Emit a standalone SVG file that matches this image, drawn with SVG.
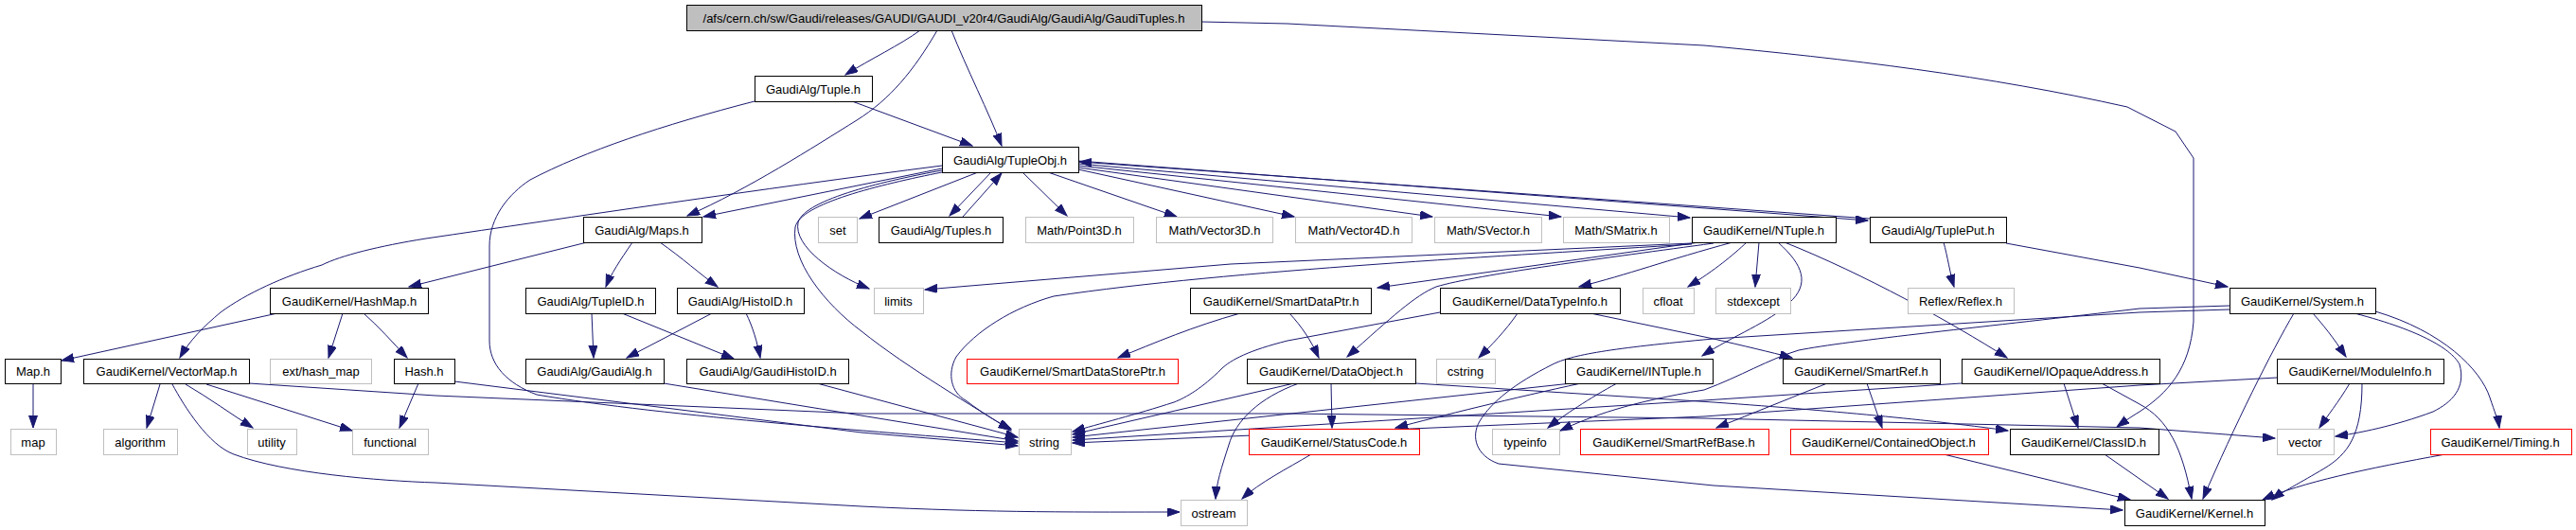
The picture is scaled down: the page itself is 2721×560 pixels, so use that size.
<svg xmlns="http://www.w3.org/2000/svg" width="2721" height="560" viewBox="0 0 2721 560">
<defs>
<marker id="ah" markerUnits="userSpaceOnUse" markerWidth="14" markerHeight="10" refX="13" refY="4.5" orient="auto"><path d="M0,0 L13,4.5 L0,9 z" fill="#191970" stroke="#191970" stroke-width="1"/></marker>
</defs>
<style>
.e{fill:none;stroke:#191970;stroke-width:1;marker-end:url(#ah)}
.n rect{fill:#fff;stroke:#000;stroke-width:1}
.g rect{stroke:#bfbfbf}
.r rect{stroke:#ff0000}
.root rect{fill:#bfbfbf}
text{font-family:"Liberation Sans",Arial,sans-serif;font-size:13px;text-anchor:middle;fill:#000}
</style>
<rect width="2721" height="560" fill="#fff"/>
<g id="edges">
<path class="e" d="M972,32 C950,48 920,62 893,79"/>
<path class="e" d="M1005,32 C1020,70 1045,120 1058,154"/>
<path class="e" d="M990,32 C965,75 940,105 905,127 C860,155 790,200 726,228"/>
<path class="e" d="M1269,23 L1360,25 L1800,48 C1950,62 2100,80 2247,113 L2298,139 L2317,167 L2317,340 C2313,390 2290,415 2260,435 C2250,441 2243,446 2236,451"/>
<path class="e" d="M900,107 L1027,154"/>
<path class="e" d="M797,107 C700,132 617,160 560,190 C537,205 517,230 517,260 L517,360 C517,385 535,405 567,417 C700,440 950,458 1075,468"/>
<path class="e" d="M995,178 L743,229"/>
<path class="e" d="M995,175 C800,200 600,230 450,252 C400,260 360,270 340,280 C300,292 260,310 233,330 C215,345 200,360 190,378"/>
<path class="e" d="M1033,182 L908,231"/>
<path class="e" d="M1047,182 L1003,228"/>
<path class="e" d="M1017,229 L1058,183"/>
<path class="e" d="M1080,182 L1127,228"/>
<path class="e" d="M1107,182 L1243,229"/>
<path class="e" d="M1139,179 L1367,229"/>
<path class="e" d="M1139,177 L1513,229"/>
<path class="e" d="M1139,175 L1649,229"/>
<path class="e" d="M1139,173 L1785,230"/>
<path class="e" d="M1139,170 L1973,233"/>
<path class="e" d="M1975,231 L1140,171"/>
<path class="e" d="M995,180 C940,190 850,210 843,235 C838,260 880,290 918,305"/>
<path class="e" d="M995,182 C930,195 845,215 840,240 C835,275 870,320 910,350 C960,390 1030,430 1068,455"/>
<path class="e" d="M620,256 L432,303"/>
<path class="e" d="M668,256 C655,275 645,290 640,303"/>
<path class="e" d="M697,256 C720,272 740,290 758,303"/>
<path class="e" d="M293,331 L65,381"/>
<path class="e" d="M362,331 L347,378"/>
<path class="e" d="M384,331 C400,345 415,362 430,378"/>
<path class="e" d="M35,405 L35,452"/>
<path class="e" d="M169,406 L155,452"/>
<path class="e" d="M196,406 C220,420 245,438 267,452"/>
<path class="e" d="M218,406 L372,455"/>
<path class="e" d="M182,406 C195,430 220,470 247,480 C300,500 400,508 460,510 L910,535 C1050,542 1150,541 1246,541"/>
<path class="e" d="M263,405 L460,418 L910,437 L1360,437 L1800,442 L2260,452 L2403,463"/>
<path class="e" d="M442,405 L422,452"/>
<path class="e" d="M480,403 L910,457 L1075,471"/>
<path class="e" d="M625,331 L627,378"/>
<path class="e" d="M657,331 L775,379"/>
<path class="e" d="M752,331 L662,378"/>
<path class="e" d="M788,331 C795,345 800,362 803,378"/>
<path class="e" d="M701,405 L1075,466"/>
<path class="e" d="M863,405 L1075,462"/>
<path class="e" d="M1787,257 L1300,279 L977,306"/>
<path class="e" d="M1787,258 C1600,270 1300,285 1113,313 C1070,325 1030,350 1010,377 C1000,395 1005,415 1020,423 C1040,438 1055,447 1068,453"/>
<path class="e" d="M1795,256 L1455,304"/>
<path class="e" d="M1810,257 C1700,272 1560,290 1517,303 C1495,312 1470,335 1423,377"/>
<path class="e" d="M1830,256 C1760,275 1720,290 1668,303"/>
<path class="e" d="M1845,256 C1830,270 1812,285 1783,303"/>
<path class="e" d="M1858,256 L1854,303"/>
<path class="e" d="M1878,256 C1905,280 1912,300 1890,320 C1870,340 1830,355 1798,376"/>
<path class="e" d="M1885,256 C1970,290 2060,340 2120,378"/>
<path class="e" d="M1603,331 C1590,350 1575,365 1562,378"/>
<path class="e" d="M1680,331 L1810,358 C1840,365 1870,372 1893,378"/>
<path class="e" d="M1521,330 L1360,360 C1320,370 1300,380 1290,390 C1270,410 1253,420 1240,425 C1200,438 1160,448 1133,456"/>
<path class="e" d="M1310,331 C1260,345 1220,362 1181,378"/>
<path class="e" d="M1362,331 C1375,345 1385,360 1393,378"/>
<path class="e" d="M1367,405 L1133,459"/>
<path class="e" d="M1406,405 L1407,452"/>
<path class="e" d="M1372,405 C1330,420 1305,445 1298,470 C1290,495 1285,510 1284,527"/>
<path class="e" d="M1495,405 L1810,425 C1950,435 2050,445 2121,455"/>
<path class="e" d="M1385,480 C1360,495 1330,510 1312,527"/>
<path class="e" d="M1708,405 C1680,420 1650,440 1635,452"/>
<path class="e" d="M1670,405 C1600,420 1520,440 1474,452"/>
<path class="e" d="M1660,405 L1133,462"/>
<path class="e" d="M2355,327 L2260,330 L1810,358 C1700,368 1660,375 1640,385 C1600,405 1575,425 1563,445 C1553,462 1560,482 1583,490 L1810,513 L2242,539"/>
<path class="e" d="M2180,405 L2195,452"/>
<path class="e" d="M2220,405 L2260,427 C2290,443 2305,473 2315,527"/>
<path class="e" d="M2072,405 L1800,423 L1133,465"/>
<path class="e" d="M1930,405 L1813,452"/>
<path class="e" d="M1972,405 L1988,452"/>
<path class="e" d="M2053,480 L2250,528"/>
<path class="e" d="M2223,480 L2290,527"/>
<path class="e" d="M2482,405 C2470,425 2458,440 2450,452"/>
<path class="e" d="M2495,405 C2495,460 2480,480 2455,495 C2430,510 2410,520 2400,528"/>
<path class="e" d="M2405,399 L2260,407 L1800,440 L1133,468"/>
<path class="e" d="M2443,331 C2460,350 2470,365 2478,377"/>
<path class="e" d="M2423,331 C2400,370 2360,450 2327,527"/>
<path class="e" d="M2487,331 C2560,350 2590,370 2598,385 C2605,410 2590,425 2570,435 C2530,450 2490,458 2467,461"/>
<path class="e" d="M2509,329 C2580,350 2620,390 2630,420 C2635,435 2639,445 2640,452"/>
<path class="e" d="M2355,323 L2260,326 C2100,345 1950,360 1900,370 C1867,380 1840,397 1800,412 C1720,425 1680,440 1648,455"/>
<path class="e" d="M2583,480 C2500,495 2430,510 2390,528"/>
<path class="e" d="M2119,257 L2260,283 L2353,303"/>
<path class="e" d="M2053,256 C2057,270 2060,290 2064,303"/>
</g>
<g id="n-root" class="n root"><rect x="725.5" y="5.5" width="544" height="27"/><text x="997" y="24">/afs/cern.ch/sw/Gaudi/releases/GAUDI/GAUDI_v20r4/GaudiAlg/GaudiAlg/GaudiTuples.h</text></g>
<g id="n-tuple" class="n"><rect x="797.5" y="80.5" width="124" height="27"/><text x="859" y="99">GaudiAlg/Tuple.h</text></g>
<g id="n-tupleobj" class="n"><rect x="995.5" y="155.5" width="144" height="27"/><text x="1067" y="174">GaudiAlg/TupleObj.h</text></g>
<g id="n-maps" class="n"><rect x="616.5" y="229.5" width="125" height="27"/><text x="678" y="248">GaudiAlg/Maps.h</text></g>
<g id="n-set" class="n g"><rect x="864.5" y="229.5" width="41" height="27"/><text x="885" y="248">set</text></g>
<g id="n-tuples" class="n"><rect x="928.5" y="229.5" width="131" height="27"/><text x="994" y="248">GaudiAlg/Tuples.h</text></g>
<g id="n-point3d" class="n g"><rect x="1083.5" y="229.5" width="114" height="27"/><text x="1140" y="248">Math/Point3D.h</text></g>
<g id="n-vector3d" class="n g"><rect x="1221.5" y="229.5" width="123" height="27"/><text x="1283" y="248">Math/Vector3D.h</text></g>
<g id="n-vector4d" class="n g"><rect x="1368.5" y="229.5" width="123" height="27"/><text x="1430" y="248">Math/Vector4D.h</text></g>
<g id="n-svector" class="n g"><rect x="1515.5" y="229.5" width="113" height="27"/><text x="1572" y="248">Math/SVector.h</text></g>
<g id="n-smatrix" class="n g"><rect x="1651.5" y="229.5" width="112" height="27"/><text x="1707" y="248">Math/SMatrix.h</text></g>
<g id="n-ntuple" class="n"><rect x="1787.5" y="229.5" width="152" height="27"/><text x="1863" y="248">GaudiKernel/NTuple.h</text></g>
<g id="n-tupleput" class="n"><rect x="1975.5" y="229.5" width="144" height="27"/><text x="2047" y="248">GaudiAlg/TuplePut.h</text></g>
<g id="n-hashmap" class="n"><rect x="285.5" y="304.5" width="167" height="27"/><text x="369" y="323">GaudiKernel/HashMap.h</text></g>
<g id="n-tupleid" class="n"><rect x="555.5" y="304.5" width="137" height="27"/><text x="624" y="323">GaudiAlg/TupleID.h</text></g>
<g id="n-histoid" class="n"><rect x="715.5" y="304.5" width="134" height="27"/><text x="782" y="323">GaudiAlg/HistoID.h</text></g>
<g id="n-limits" class="n g"><rect x="923.5" y="304.5" width="52" height="27"/><text x="949" y="323">limits</text></g>
<g id="n-smartdataptr" class="n"><rect x="1257.5" y="304.5" width="191" height="27"/><text x="1353" y="323">GaudiKernel/SmartDataPtr.h</text></g>
<g id="n-datatypeinfo" class="n"><rect x="1521.5" y="304.5" width="190" height="27"/><text x="1616" y="323">GaudiKernel/DataTypeInfo.h</text></g>
<g id="n-cfloat" class="n g"><rect x="1735.5" y="304.5" width="54" height="27"/><text x="1762" y="323">cfloat</text></g>
<g id="n-stdexcept" class="n g"><rect x="1812.5" y="304.5" width="79" height="27"/><text x="1852" y="323">stdexcept</text></g>
<g id="n-reflex" class="n g"><rect x="2015.5" y="304.5" width="112" height="27"/><text x="2071" y="323">Reflex/Reflex.h</text></g>
<g id="n-system" class="n"><rect x="2355.5" y="304.5" width="154" height="27"/><text x="2432" y="323">GaudiKernel/System.h</text></g>
<g id="n-maph" class="n"><rect x="5.5" y="379.5" width="59" height="26"/><text x="35" y="397">Map.h</text></g>
<g id="n-vectormap" class="n"><rect x="88.5" y="379.5" width="175" height="26"/><text x="176" y="397">GaudiKernel/VectorMap.h</text></g>
<g id="n-exthash" class="n g"><rect x="285.5" y="379.5" width="107" height="26"/><text x="339" y="397">ext/hash_map</text></g>
<g id="n-hash" class="n"><rect x="416.5" y="379.5" width="64" height="26"/><text x="448" y="397">Hash.h</text></g>
<g id="n-gaudialg" class="n"><rect x="555.5" y="379.5" width="146" height="26"/><text x="628" y="397">GaudiAlg/GaudiAlg.h</text></g>
<g id="n-gaudihistoid" class="n"><rect x="725.5" y="379.5" width="171" height="26"/><text x="811" y="397">GaudiAlg/GaudiHistoID.h</text></g>
<g id="n-smartdatastoreptr" class="n r"><rect x="1021.5" y="379.5" width="223" height="26"/><text x="1133" y="397">GaudiKernel/SmartDataStorePtr.h</text></g>
<g id="n-dataobject" class="n"><rect x="1317.5" y="379.5" width="178" height="26"/><text x="1406" y="397">GaudiKernel/DataObject.h</text></g>
<g id="n-cstring" class="n g"><rect x="1517.5" y="379.5" width="62" height="26"/><text x="1548" y="397">cstring</text></g>
<g id="n-intuple" class="n"><rect x="1653.5" y="379.5" width="156" height="26"/><text x="1731" y="397">GaudiKernel/INTuple.h</text></g>
<g id="n-smartref" class="n"><rect x="1883.5" y="379.5" width="166" height="26"/><text x="1966" y="397">GaudiKernel/SmartRef.h</text></g>
<g id="n-iopaque" class="n"><rect x="2072.5" y="379.5" width="209" height="26"/><text x="2177" y="397">GaudiKernel/IOpaqueAddress.h</text></g>
<g id="n-moduleinfo" class="n"><rect x="2405.5" y="379.5" width="176" height="26"/><text x="2493" y="397">GaudiKernel/ModuleInfo.h</text></g>
<g id="n-map" class="n g"><rect x="11.5" y="453.5" width="48" height="27"/><text x="35" y="472">map</text></g>
<g id="n-algorithm" class="n g"><rect x="109.5" y="453.5" width="78" height="27"/><text x="148" y="472">algorithm</text></g>
<g id="n-utility" class="n g"><rect x="261.5" y="453.5" width="52" height="27"/><text x="287" y="472">utility</text></g>
<g id="n-functional" class="n g"><rect x="372.5" y="453.5" width="80" height="27"/><text x="412" y="472">functional</text></g>
<g id="n-string" class="n g"><rect x="1076.5" y="453.5" width="55" height="27"/><text x="1103" y="472">string</text></g>
<g id="n-statuscode" class="n r"><rect x="1319.5" y="453.5" width="180" height="27"/><text x="1409" y="472">GaudiKernel/StatusCode.h</text></g>
<g id="n-typeinfo" class="n g"><rect x="1576.5" y="453.5" width="71" height="27"/><text x="1611" y="472">typeinfo</text></g>
<g id="n-smartrefbase" class="n r"><rect x="1669.5" y="453.5" width="199" height="27"/><text x="1768" y="472">GaudiKernel/SmartRefBase.h</text></g>
<g id="n-containedobject" class="n r"><rect x="1891.5" y="453.5" width="209" height="27"/><text x="1995" y="472">GaudiKernel/ContainedObject.h</text></g>
<g id="n-classid" class="n"><rect x="2123.5" y="453.5" width="157" height="27"/><text x="2201" y="472">GaudiKernel/ClassID.h</text></g>
<g id="n-vector" class="n g"><rect x="2405.5" y="453.5" width="60" height="27"/><text x="2435" y="472">vector</text></g>
<g id="n-timing" class="n r"><rect x="2567.5" y="453.5" width="149" height="27"/><text x="2641" y="472">GaudiKernel/Timing.h</text></g>
<g id="n-ostream" class="n g"><rect x="1247.5" y="528.5" width="70" height="27"/><text x="1282" y="547">ostream</text></g>
<g id="n-kernel" class="n"><rect x="2244.5" y="528.5" width="148" height="27"/><text x="2318" y="547">GaudiKernel/Kernel.h</text></g>
</svg>
